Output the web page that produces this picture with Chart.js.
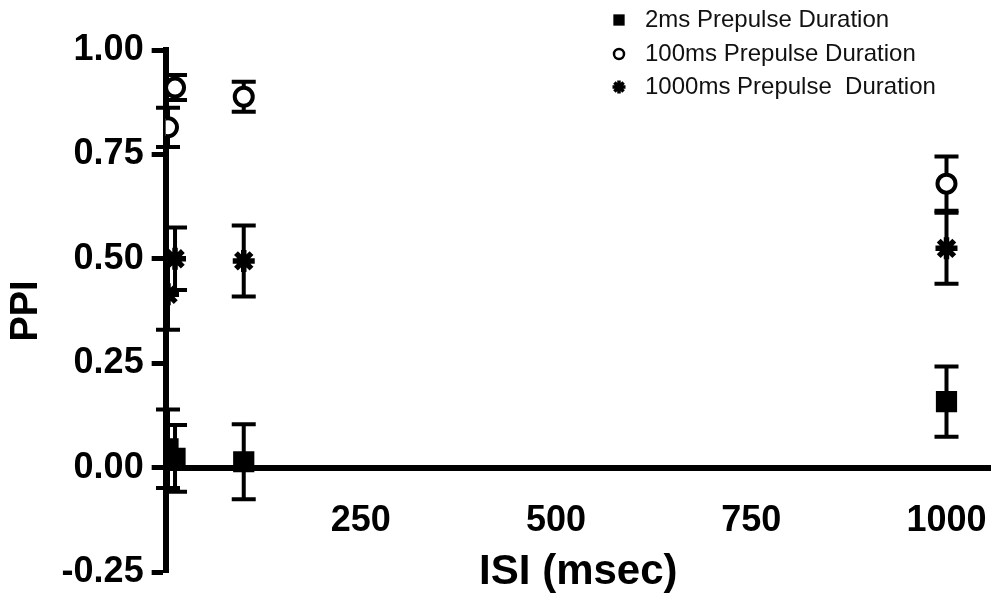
<!DOCTYPE html>
<html>
<head>
<meta charset="utf-8">
<script src="https://cdn.jsdelivr.net/npm/chart.js@4"></script>
<style>
  body { margin: 0; background: #fff; }
  #wrap { width: 991px; height: 593px; position: relative; }
</style>
</head>
<body>
<div id="wrap"><canvas id="ppiChart"></canvas></div>
<script>
// ISI values (msec) shared by all three series
var isi = [3, 12, 100, 1000];

var ppi2ms = [0.045, 0.022, 0.014, 0.158];
var sem2ms = [0.094, 0.08, 0.09, 0.084];

var ppi100ms = [0.815, 0.91, 0.888, 0.68];
var sem100ms = [0.047, 0.03, 0.036, 0.065];

var ppi1000ms = [0.415, 0.50, 0.495, 0.525];
var sem1000ms = [0.085, 0.075, 0.085, 0.085];

var seriesLabels = ['2ms Prepulse Duration', '100ms Prepulse Duration', '1000ms Prepulse  Duration'];

var xTicks = [250, 500, 750, 1000];
var yTicks = [-0.25, 0, 0.25, 0.5, 0.75, 1.0];

var FONT = 'Liberation Sans, Arial, Helvetica, sans-serif';

function toPoints(values) {
  return isi.map(function(x, i) { return { x: x, y: values[i] }; });
}

// the layout padding alone decides where the plot area sits
function noScalePadding(scale) {
  scale.paddingLeft = 0;
  scale.paddingRight = 0;
  scale.paddingTop = 0;
  scale.paddingBottom = 0;
}

// vertical error bars with caps, drawn under the markers
var errorBars = {
  id: 'errorBars',
  beforeDatasetsDraw: function(chart) {
    var ctx = chart.ctx;
    var yScale = chart.scales.y;
    chart.data.datasets.forEach(function(ds, i) {
      var meta = chart.getDatasetMeta(i);
      meta.data.forEach(function(pt, j) {
        var v = ds.data[j].y;
        var e = ds.errors[j];
        var top = yScale.getPixelForValue(v + e);
        var bottom = yScale.getPixelForValue(v - e);
        ctx.save();
        ctx.strokeStyle = '#000';
        ctx.lineWidth = 4;
        ctx.beginPath();
        ctx.moveTo(pt.x, top);
        ctx.lineTo(pt.x, bottom);
        ctx.moveTo(pt.x - 12, top);
        ctx.lineTo(pt.x + 12, top);
        ctx.moveTo(pt.x - 12, bottom);
        ctx.lineTo(pt.x + 12, bottom);
        ctx.stroke();
        ctx.restore();
      });
    });
  }
};

// small legend in the top right corner, over the plot
var cornerLegend = {
  id: 'cornerLegend',
  afterDraw: function(chart) {
    var ctx = chart.ctx;
    var rows = [20, 54, 87];
    var marks = [
      { pointStyle: 'rect', radius: 8, borderWidth: 0, fill: '#000' },
      { pointStyle: 'circle', radius: 5, borderWidth: 2.5, fill: '#fff' },
      { pointStyle: 'star', radius: 6.5, borderWidth: 3.5, fill: '#000' }
    ];
    chart.data.datasets.forEach(function(ds, i) {
      ctx.save();
      ctx.fillStyle = marks[i].fill;
      ctx.strokeStyle = '#000';
      ctx.lineWidth = marks[i].borderWidth;
      Chart.helpers.drawPoint(ctx, marks[i], 619, rows[i]);
      ctx.restore();
      ctx.save();
      ctx.fillStyle = '#111';
      ctx.font = '24px ' + FONT;
      ctx.textBaseline = 'middle';
      ctx.fillText(ds.label, 645, rows[i]);
      ctx.restore();
    });
  }
};

var ctx = document.getElementById('ppiChart').getContext('2d');
var ppiChart = new Chart(ctx, {
  type: 'scatter',
  data: {
    datasets: [{
      label: seriesLabels[0],
      data: toPoints(ppi2ms),
      errors: sem2ms,
      pointStyle: 'rect',
      pointRadius: 15,
      backgroundColor: '#000',
      borderColor: '#000',
      pointBorderWidth: 0
    }, {
      label: seriesLabels[1],
      data: toPoints(ppi100ms),
      errors: sem100ms,
      pointStyle: 'circle',
      pointRadius: 9,
      backgroundColor: '#fff',
      borderColor: '#000',
      pointBorderWidth: 4
    }, {
      label: seriesLabels[2],
      data: toPoints(ppi1000ms),
      errors: sem1000ms,
      pointStyle: 'star',
      pointRadius: 11,
      backgroundColor: '#000',
      borderColor: '#000',
      pointBorderWidth: 5.5
    }]
  },
  options: {
    responsive: true,
    maintainAspectRatio: false,
    animation: false,
    events: [],
    layout: { autoPadding: false, padding: { top: 50, left: 4, right: 0, bottom: 21 } },
    plugins: {
      legend: { display: false },
      tooltip: { enabled: false }
    },
    scales: {
      x: {
        type: 'linear',
        min: 0,
        max: 1057,
        position: { y: 0 },
        afterBuildTicks: function(axis) {
          axis.ticks = xTicks.map(function(v) { return { value: v }; });
        },
        afterFit: noScalePadding,
        ticks: {
          color: '#000',
          padding: 2,
          maxRotation: 0,
          callback: function(v) { return String(v); },
          font: { family: FONT, weight: 'bold', size: 36 }
        },
        // invisible tick marks just push the labels down from the zero line
        grid: { drawOnChartArea: false, drawTicks: true, tickLength: 30, tickColor: 'rgba(0,0,0,0)' },
        border: { color: '#000', width: 6 },
        title: {
          display: true,
          text: 'ISI (msec)',
          color: '#000',
          padding: { top: 7, bottom: 0 },
          font: { family: FONT, weight: 'bold', size: 42, lineHeight: 1.0 }
        }
      },
      y: {
        min: -0.25,
        max: 1.0,
        afterBuildTicks: function(axis) {
          axis.ticks = yTicks.map(function(v) { return { value: v }; });
        },
        afterFit: noScalePadding,
        ticks: {
          color: '#000',
          padding: 8,
          callback: function(v) { return v.toFixed(2); },
          font: { family: FONT, weight: 'bold', size: 36, lineHeight: 1.0 }
        },
        grid: { drawOnChartArea: false, tickLength: 14, tickWidth: 5, tickColor: '#000' },
        border: { color: '#000', width: 6 },
        title: {
          display: true,
          text: 'PPI',
          color: '#000',
          padding: { top: 0, bottom: 4 },
          font: { family: FONT, weight: 'bold', size: 38 }
        }
      }
    }
  },
  plugins: [errorBars, cornerLegend]
});
</script>
</body>
</html>
